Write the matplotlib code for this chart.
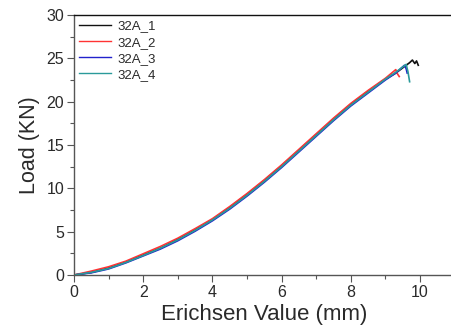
import matplotlib
matplotlib.use("Agg")
import matplotlib.pyplot as plt
from matplotlib.ticker import MultipleLocator

plt.rcParams["font.family"] = ["Liberation Sans", "DejaVu Sans"]

# --- data (Erichsen value mm, load kN) ---
labels = ["32A_1", "32A_2", "32A_3", "32A_4"]
colors = ["#111111", "#ff3333", "#2222cc", "#2a9a9a"]

x1 = [0, 0.5, 1, 1.5, 2, 2.5, 3, 3.5, 4, 4.5, 5, 5.5, 6, 6.5, 7, 7.5, 8, 8.5, 9, 9.3, 9.5, 9.7, 9.78, 9.85, 9.9, 9.95]
y1 = [0, 0.3, 0.8, 1.5, 2.3, 3.1, 4.1, 5.2, 6.4, 7.8, 9.3, 10.9, 12.6, 14.4, 16.2, 18.0, 19.7, 21.2, 22.6, 23.3, 23.9, 24.5, 24.8, 24.4, 24.7, 24.2]

x2 = [0, 0.5, 1, 1.5, 2, 2.5, 3, 3.5, 4, 4.5, 5, 5.5, 6, 6.5, 7, 7.5, 8, 8.5, 9, 9.3, 9.35, 9.4]
y2 = [0, 0.45, 0.95, 1.6, 2.45, 3.3, 4.25, 5.35, 6.5, 7.9, 9.4, 11.0, 12.7, 14.5, 16.3, 18.1, 19.8, 21.3, 22.7, 23.7, 23.2, 22.9]

x3 = [0, 0.5, 1, 1.5, 2, 2.5, 3, 3.5, 4, 4.5, 5, 5.5, 6, 6.5, 7, 7.5, 8, 8.5, 9, 9.3, 9.55, 9.6, 9.63]
y3 = [0, 0.25, 0.7, 1.4, 2.2, 3.0, 3.95, 5.05, 6.25, 7.6, 9.1, 10.7, 12.4, 14.2, 16.0, 17.8, 19.5, 21.0, 22.5, 23.3, 24.2, 23.8, 23.3]

x4 = [0, 0.5, 1, 1.5, 2, 2.5, 3, 3.5, 4, 4.5, 5, 5.5, 6, 6.5, 7, 7.5, 8, 8.5, 9, 9.3, 9.6, 9.65, 9.7]
y4 = [0, 0.3, 0.75, 1.45, 2.25, 3.1, 4.05, 5.15, 6.35, 7.7, 9.2, 10.8, 12.5, 14.3, 16.1, 17.9, 19.6, 21.1, 22.6, 23.4, 24.3, 23.5, 22.3]

series_x = [x1, x2, x3, x4]
series_y = [y1, y2, y3, y4]

fig = plt.figure(figsize=(4.52, 3.33), dpi=100)
ax = fig.add_axes([74 / 452, 58 / 333, 380.6 / 452, 260 / 333])

for xs, ys, lab, col in zip(series_x, series_y, labels, colors):
    ax.plot(xs, ys, color=col, linewidth=1.2, label=lab)

ax.set_xlim(0, 11)
ax.set_ylim(0, 30)
ax.xaxis.set_major_locator(MultipleLocator(2))
ax.xaxis.set_minor_locator(MultipleLocator(1))
ax.yaxis.set_major_locator(MultipleLocator(5))
ax.yaxis.set_minor_locator(MultipleLocator(2.5))

txt = "#2a2a2a"
ax.tick_params(which="major", direction="out", length=5, width=0.8, colors="#555555",
               labelcolor=txt, labelsize=11.5, pad=2)
ax.tick_params(which="minor", direction="out", length=3, width=0.8, colors="#555555")
for side in ["left", "bottom"]:
    ax.spines[side].set_color("#555555")
    ax.spines[side].set_linewidth(1.0)
ax.spines["top"].set_color("#111111")
ax.spines["top"].set_linewidth(1.0)
ax.spines["right"].set_visible(False)

ax.set_xlabel("Erichsen Value (mm)", fontsize=16, color=txt, labelpad=3)
ax.set_ylabel("Load (KN)", fontsize=15.5, color=txt, labelpad=5)

# legend handles used by the reference (thin lines)
handles = ax.get_lines()
leg = ax.legend(handles, labels, loc="upper left", frameon=False, fontsize=9.5,
                handlelength=2.4, handletextpad=0.5, labelspacing=0.3,
                borderaxespad=0.0, labelcolor=txt)
for h in leg.get_lines():
    h.set_linewidth(1.0)

fig.savefig("out.png", dpi=100)
